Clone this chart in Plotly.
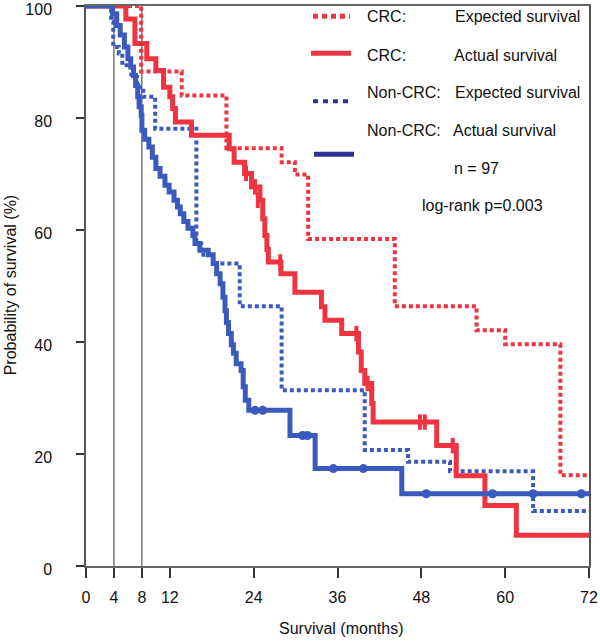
import plotly.graph_objects as go

# ---------------- data ----------------
crc_exp_t = [0, 7.9, 13.7, 20.1, 28.0, 29.9, 31.8, 44.2, 55.9, 60.0, 67.9, 72]
crc_exp_s = [100, 88.3, 84.0, 74.6, 72.1, 69.9, 58.4, 46.4, 42.1, 39.6, 16.2, 16.2]

non_exp_t = [0, 3.6, 3.9, 4.7, 5.2, 6.5, 7.3, 8.2, 9.9, 15.8, 16.5, 18.2, 22.0, 28.0, 39.9, 46.1, 52.1, 64.0, 72]
non_exp_s = [100, 97.1, 92.7, 91.5, 89.4, 87.3, 85.5, 83.8, 78.1, 57.5, 55.6, 54.0, 46.4, 31.4, 20.7, 18.6, 16.9, 9.8, 9.8]

crc_act_t = [0, 5.7, 7.0, 8.7, 10.0, 11.1, 12.0, 12.4, 12.8, 15.1, 20.5, 21.2, 22.7, 23.7, 24.9, 25.3,
             25.6, 25.9, 26.1, 27.9, 29.9, 33.7, 34.2, 36.6, 39.0, 39.4, 39.9, 40.9, 41.1, 50.2, 53.0,
             57.1, 61.6, 72]
crc_act_s = [100, 97.7, 93.3, 90.6, 88.5, 85.5, 83.8, 81.7, 79.3, 76.9, 74.5, 72.1, 70.1, 67.7, 65.3, 62.0,
             59.0, 56.5, 54.3, 52.2, 48.9, 46.3, 43.9, 41.5, 38.2, 34.9, 32.6, 29.0, 25.7, 21.5, 16.1,
             10.8, 5.5, 5.5]
crc_cens_t = [22.9, 24.2, 24.6, 27.8, 38.7, 40.3, 47.8, 48.5, 52.5]
crc_cens_s = [70.1, 67.7, 65.3, 54.3, 41.5, 32.6, 25.7, 25.7, 21.5]

non_act_t = [0, 3.8, 4.4, 4.9, 5.5, 6.0, 6.4, 6.8, 7.1, 7.4, 7.6, 7.9, 8.0, 8.4, 9.0, 9.5, 10.0, 10.6,
             11.3, 11.9, 12.6, 13.1, 13.5, 14.0, 14.6, 15.3, 15.6, 16.3, 17.5, 18.2, 18.7, 19.2, 19.6,
             19.9, 20.1, 20.4, 20.8, 21.1, 21.5, 22.2, 22.5, 22.8, 23.3, 29.2, 32.8, 45.2, 72]
non_act_s = [100, 98.6, 96.5, 94.8, 92.7, 90.6, 89.1, 87.6, 85.8, 83.8, 82.0, 80.5, 77.8, 76.2, 74.8,
             73.0, 71.0, 69.6, 68.0, 66.8, 65.3, 64.1, 62.9, 61.5, 60.3, 59.0, 57.6, 56.4, 55.6, 54.0,
             52.2, 50.4, 48.0, 45.6, 43.5, 41.5, 39.5, 38.0, 36.1, 34.9, 32.0, 29.6, 27.8, 23.3, 17.4,
             12.9, 12.9]
non_cens_t = [24.2, 25.3, 31.0, 31.7, 35.4, 39.7, 48.7, 58.2, 64.0, 70.9]
non_cens_s = [27.8, 27.8, 23.3, 23.3, 17.4, 17.4, 12.9, 12.9, 12.9, 12.9]

x_ticks = [0, 4, 8, 12, 24, 36, 48, 60, 72]
y_ticks = [0, 20, 40, 60, 80, 100]
ref_lines = [4, 8]

RED = "#ee3440"
BLUE = "#3a5bbd"
NAVY = "#2e3192"
FONT = "Liberation Sans, Arial, Helvetica, sans-serif"

fig = go.Figure()
fig.add_trace(go.Scatter(x=crc_exp_t, y=crc_exp_s, mode="lines", line_shape="hv",
                         line=dict(color=RED, width=4, dash="4px,3px"), showlegend=False))
fig.add_trace(go.Scatter(x=non_exp_t, y=non_exp_s, mode="lines", line_shape="hv",
                         line=dict(color=BLUE, width=4, dash="4px,3px"), showlegend=False))
fig.add_trace(go.Scatter(x=crc_act_t, y=crc_act_s, mode="lines", line_shape="hv",
                         line=dict(color=RED, width=5), showlegend=False))
fig.add_trace(go.Scatter(x=crc_cens_t, y=crc_cens_s, mode="markers",
                         marker=dict(symbol="line-ns-open", size=11, color=RED,
                                     line=dict(color=RED, width=4)),
                         showlegend=False))
fig.add_trace(go.Scatter(x=non_act_t, y=non_act_s, mode="lines", line_shape="hv",
                         line=dict(color=BLUE, width=5), showlegend=False))
fig.add_trace(go.Scatter(x=non_cens_t, y=non_cens_s, mode="markers",
                         marker=dict(symbol="circle", size=9, color=BLUE), showlegend=False))

shapes = []
for v in ref_lines:
    shapes.append(dict(type="line", xref="x", yref="paper", x0=v, x1=v, y0=0, y1=1,
                       line=dict(color="#333", width=1), layer="below"))

# manual legend (paper coordinates)
def px2x(px):
    return (px - 86) / 503.0

def py2y(py):
    return (565.7 - py) / 560.0

legend_lines = [
    (313, 350, 16, RED, "5px,4px", 5),
    (311, 351, 53, RED, "solid", 5),
    (313, 348, 101, NAVY, "5px,5px", 4),
    (314, 354, 154, NAVY, "solid", 5),
]
for x0, x1, yy, c, d, w in legend_lines:
    shapes.append(dict(type="line", xref="paper", yref="paper", x0=px2x(x0), x1=px2x(x1),
                       y0=py2y(yy), y1=py2y(yy), line=dict(color=c, width=w, dash=d)))

annotations = []
legend_texts = [
    (365, 16, "CRC:"), (453, 16, "Expected survival"),
    (365, 55, "CRC:"), (452, 55, "Actual survival"),
    (365, 92, "Non-CRC:"), (453, 92, "Expected survival"),
    (365, 130, "Non-CRC:"), (451, 130, "Actual survival"),
    (452, 168, "n = 97"),
    (420, 205, "log-rank p=0.003"),
]
for px, py, t in legend_texts:
    annotations.append(dict(text=t, xref="paper", yref="paper", x=px2x(px), y=py2y(py),
                            xanchor="left", yanchor="middle", showarrow=False,
                            font=dict(size=16, color="#111", family=FONT)))

annotations.append(dict(text="Survival (months)", xref="paper", yref="paper", x=px2x(341), y=py2y(628),
                        xanchor="center", yanchor="middle", showarrow=False,
                        font=dict(size=16, color="#111", family=FONT)))
annotations.append(dict(text="Probability of survival (%)", xref="paper", yref="paper", x=px2x(10),
                        y=py2y(285), xanchor="center", yanchor="middle", textangle=-90, showarrow=False,
                        font=dict(size=16, color="#111", family=FONT)))

fig.update_layout(
    width=600, height=641,
    margin=dict(l=86, r=11, t=6, b=75, pad=0),
    paper_bgcolor="white", plot_bgcolor="white",
    font=dict(family=FONT, size=16, color="#111"),
    shapes=shapes, annotations=annotations,
    xaxis=dict(range=[0, 72], tickmode="array", tickvals=x_ticks, ticktext=[str(v) for v in x_ticks],
               showgrid=False, zeroline=False, showline=True, linecolor="#666", linewidth=1.5,
               mirror=True, ticks="outside", ticklen=10, tickwidth=2, tickcolor="#333",
               ticklabelstandoff=6, ticklabeloverflow="allow", automargin=False,
               tickfont=dict(size=16, family=FONT, color="#111")),
    yaxis=dict(range=[0, 100], tickmode="array", tickvals=y_ticks, ticktext=[str(v) for v in y_ticks],
               showgrid=False, zeroline=False, showline=True, linecolor="#555", linewidth=1.5,
               mirror=True, ticks="outside", ticklen=8, tickwidth=2, tickcolor="#333",
               ticklabelstandoff=21, ticklabelshift=3, ticklabeloverflow="allow", automargin=False,
               tickfont=dict(size=16, family=FONT, color="#111")),
)

fig.write_html("out.html", config={"displayModeBar": False},
               post_script="document.body.style.margin='0';document.body.style.padding='0';"
                           "document.body.style.overflow='hidden';")
